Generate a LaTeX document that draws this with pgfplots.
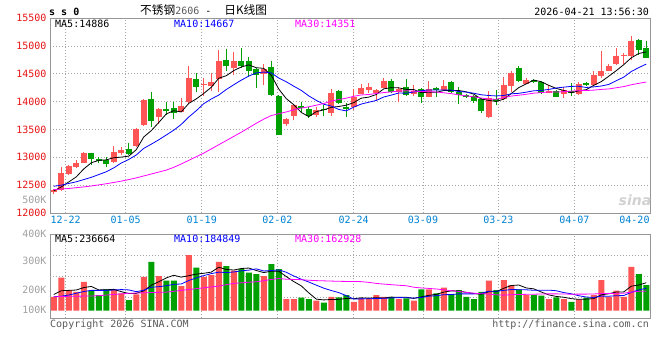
\documentclass[border=0pt]{standalone}
\usepackage{pgfplots}
\usepackage{pgfplotstable}
\pgfplotsset{compat=1.18}
\usepackage{fontspec}
\newfontfamily\mono{DejaVu Sans Mono}
\newfontfamily\cjk{Noto Sans CJK SC}
\definecolor{upred}{RGB}{255,85,85}
\definecolor{dngreen}{RGB}{0,160,0}
\definecolor{pricered}{RGB}{230,20,20}
\definecolor{dateblue}{RGB}{0,130,210}
\definecolor{volgray}{RGB}{160,160,160}
\definecolor{gridgray}{RGB}{165,165,165}
\definecolor{bordergray}{RGB}{150,150,150}
\definecolor{txtgray}{RGB}{90,90,90}
\definecolor{maBlue}{RGB}{0,0,255}
\definecolor{maMag}{RGB}{255,0,255}

% i open high low close volume(K)
\pgfplotstableread{
i o h l c v
0 12370 12430 12350 12420 120
1 12420 12830 12400 12715 284
2 12700 12860 12690 12840 178
3 12820 12950 12810 12900 163
4 12900 13100 12890 13080 249
8 12910 13210 12900 13090 183
9 13085 13180 13040 13135 149
11 13210 13530 13190 13510 140
12 13580 14040 13570 14030 292
14 13715 13885 13590 13865 298
17 13820 14060 13810 13920 212
18 13985 14630 13975 14420 479
20 14290 14420 14100 14320 292
21 14275 14515 14190 14350 307
22 14400 14920 14180 14735 421
24 14610 14895 14470 14730 344
28 14490 14670 14300 14585 298
31 13600 13710 13565 13680 100
32 13740 13965 13670 13935 100
35 13755 13900 13720 13845 86
37 13800 14220 13750 14160 120
40 13895 14220 13850 14075 77
41 14140 14310 14130 14240 106
42 14210 14340 14150 14255 106
43 14155 14220 14010 14205 135
44 14250 14430 14240 14370 120
46 14180 14260 14000 14220 100
48 14140 14300 14100 14190 86
50 14090 14375 14080 14220 183
52 14210 14390 14190 14280 198
58 13715 14190 13700 14060 258
60 14040 14450 14030 14300 264
61 14280 14540 14180 14510 221
63 14315 14430 14310 14390 135
66 14160 14300 14150 14190 100
68 14130 14270 14070 14210 100
70 14130 14345 14120 14310 97
72 14300 14540 14300 14480 135
73 14465 14900 14430 14540 264
74 14555 14670 14550 14645 120
75 14670 14960 14660 14810 172
76 14820 14870 14670 14840 120
77 14825 15185 14750 15090 378
}\up

\pgfplotstableread{
i o h l c v
5 13070 13085 12860 12970 172
6 12975 13010 12890 12935 135
7 12960 13010 12830 12885 183
10 13150 13250 13040 13060 92
13 14045 14170 13545 13655 421
15 13865 13985 13760 13830 258
16 13880 13985 13690 13800 258
19 14400 14515 14180 14270 370
23 14750 14945 14550 14645 384
25 14730 14970 14600 14645 358
26 14735 14800 14450 14540 327
27 14585 14600 14250 14480 315
29 14625 14730 14100 14120 401
30 14105 14110 13395 13400 358
33 13925 14000 13805 13890 112
34 13865 13910 13710 13745 100
36 13870 13935 13735 13840 69
38 14195 14210 13960 13970 115
39 13905 13975 13720 13860 135
45 14370 14405 14150 14180 120
47 14255 14400 14100 14120 106
49 14220 14240 13970 14090 183
51 14250 14270 14090 14210 149
53 14360 14375 14160 14180 143
54 14180 14255 13950 14110 178
55 14115 14130 14060 14090 120
56 14100 14115 13980 14010 100
57 14040 14060 13800 13835 163
59 14045 14210 13940 14015 178
62 14600 14630 14345 14370 183
64 14390 14405 14340 14360 135
65 14360 14375 14130 14150 129
67 14190 14205 14075 14090 115
69 14190 14340 14105 14160 77
71 14330 14360 14280 14300 112
78 15110 15125 14840 14930 315
79 14960 15080 14780 14790 221
}\down

% moving averages: price MA5 MA10 MA30, volume MA5 MA10 MA30 (K)
\pgfplotstableread{
i p5 p10 p30 v5 v10 v30
0 12396 12480 12420 140 120 120
1 12468 12500 12430 172 125 122
2 12558 12530 12440 175 135 124
3 12648 12560 12455 178 150 125
4 12791 12600 12468 199 165 126
5 12901 12640 12485 209 175 127
6 12945 12690 12505 179 175 129
7 12954 12740 12525 180 175 135
8 12992 12810 12548 184 178 140
9 13003 12897 12572 164 182 145
10 13021 12961 12600 148 179 150
11 13136 13041 12630 149 164 152
12 13365 13160 12665 171 176 154
13 13478 13235 12700 219 202 156
14 13624 13314 12735 249 207 158
15 13778 13400 12770 282 215 160
16 13836 13486 12820 305 227 167
17 13814 13590 12880 289 230 175
18 13967 13723 12945 301 260 182
19 14048 13836 13010 315 282 190
20 14146 13962 13075 322 302 197
21 14256 14046 13150 332 319 205
22 14419 14117 13225 374 332 212
23 14464 14216 13300 355 328 224
24 14556 14302 13375 350 333 235
25 14621 14384 13450 363 343 240
26 14659 14458 13530 367 349 245
27 14608 14514 13610 346 360 249
28 14596 14530 13685 328 342 258
29 14474 14515 13749 340 345 269
30 14225 14423 13782 340 351 277
31 14053 14356 13814 294 331 271
32 13944 14276 13851 251 299 269
33 13805 14201 13884 214 271 267
34 13730 14102 13906 154 247 262
35 13819 14022 13935 100 220 259
36 13851 13952 13965 93 194 257
37 13896 13920 14008 97 174 255
38 13912 13859 14037 98 156 253
39 13935 13833 14061 105 130 252
40 13981 13900 14095 103 101 252
41 14061 13956 14119 111 102 250
42 14080 13988 14127 108 103 244
43 14127 14020 14145 112 105 235
44 14229 14082 14162 109 107 229
45 14250 14116 14174 117 110 224
46 14246 14154 14188 116 113 219
47 14219 14150 14194 116 112 215
48 14216 14172 14187 106 109 202
49 14160 14195 14181 119 114 196
50 14168 14209 14177 132 125 192
51 14166 14206 14173 141 129 187
52 14198 14209 14158 160 138 180
53 14196 14206 14142 171 139 172
54 14200 14180 14121 170 145 166
55 14174 14171 14103 158 145 158
56 14134 14150 14085 148 145 151
57 14045 14122 14064 141 150 146
58 14021 14109 14045 164 168 144
59 14002 14101 14042 164 167 137
60 14044 14109 14072 193 175 134
61 14144 14139 14099 217 182 138
62 14251 14148 14114 221 181 140
63 14317 14169 14131 196 180 141
64 14386 14194 14151 188 176 142
65 14356 14200 14161 161 177 144
66 14292 14218 14173 136 177 145
67 14236 14244 14171 123 172 145
68 14200 14259 14178 116 156 144
69 14160 14273 14188 104 146 142
70 14192 14274 14196 98 129 143
71 14214 14253 14198 100 118 143
72 14292 14264 14206 104 114 144
73 14358 14279 14218 137 126 148
74 14455 14308 14227 146 125 148
75 14555 14374 14248 161 129 150
76 14663 14439 14269 162 131 151
77 14785 14539 14302 211 158 160
78 14863 14610 14327 221 179 167
79 14892 14673 14351 241 193 168
}\ma

\pgfplotsset{
  sinabase/.style={
    scale only axis, width=600pt,
    xmin=-0.5, xmax=79.5,
    scaled x ticks=false, scaled y ticks=false,
    axis line style={draw=bordergray, line width=1pt},
    tick style={draw=none},
    major tick length=0pt,
    /pgf/number format/assume math mode=true,
    grid style={draw=gridgray, line width=0.7pt, dash pattern=on 1pt off 2pt},
    xtick={1.59,9.59,19.73,29.81,39.99,49.23,59.29,69.42},
    xmajorgrids,
    yticklabel style={font=\mono\fontsize{10}{12}\selectfont},
    xticklabel style={font=\mono\fontsize{10}{12}\selectfont, text=dateblue},
  },
  wick/.style={draw=none, mark=none,
    error bars/.cd, y dir=plus, y explicit, error mark=none,
    error bar style={line width=1pt, draw=#1, solid}},
  body/.style={draw=none, mark=none,
    error bars/.cd, y dir=plus, y explicit, error mark=none,
    error bar style={line width=6pt, draw=#1, solid}},
}

\begin{document}
\begin{tikzpicture}
\useasboundingbox (0,0) rectangle (660pt,360pt);

% ---------- price panel ----------
\begin{axis}[sinabase,
  at={(50pt,147pt)}, anchor=south west, height=195pt,
  ymin=12000, ymax=15500,
  xticklabels={12-22,01-05,01-19,02-02,02-24,03-09,03-23,04-07},
  extra x ticks={77.43}, extra x tick labels={04-20},
  extra x tick style={grid=none},
  ytick={12000,12500,13000,13500,14000,14500,15000,15500},
  yticklabels={12000,12500,13000,13500,14000,14500,15000,15500},
  yticklabel style={text=pricered},
  ymajorgrids,
  extra y ticks={12229}, extra y tick labels={500K},
  extra y tick style={grid=none, yticklabel style={text=volgray}},
]
\addplot[wick=upred] table[x=i, y=l, y error expr=\thisrow{h}-\thisrow{l}] {\up};
\addplot[wick=dngreen] table[x=i, y=l, y error expr=\thisrow{h}-\thisrow{l}] {\down};
\addplot[body=upred] table[x=i, y=o, y error expr=\thisrow{c}-\thisrow{o}] {\up};
\addplot[body=dngreen] table[x=i, y=c, y error expr=\thisrow{o}-\thisrow{c}] {\down};
\addplot[black, line width=0.8pt, mark=none] table[x=i, y=p5] {\ma};
\addplot[maBlue, line width=0.8pt, mark=none] table[x=i, y=p10] {\ma};
\addplot[maMag, line width=0.8pt, mark=none] table[x=i, y=p30] {\ma};
\end{axis}

% ---------- volume panel ----------
\begin{axis}[sinabase,
  at={(50pt,41.7pt)}, anchor=south west, height=84pt,
  ymin=-65, ymax=657,
  xticklabels={},
  ytick={6,178,427,657},
  yticklabels={100K,200K,300K,400K},
  yticklabel style={text=volgray},
  extra y ticks={115,296,476}, extra y tick labels={},
  extra y tick style={grid=major},
]
\addplot[ybar, bar width=6pt, bar shift=0pt, fill=upred, draw=none] table[x=i, y=v] {\up};
\addplot[ybar, bar width=6pt, bar shift=0pt, fill=dngreen, draw=none] table[x=i, y=v] {\down};
\addplot[black, line width=0.8pt, mark=none] table[x=i, y=v5] {\ma};
\addplot[maBlue, line width=0.8pt, mark=none] table[x=i, y=v10] {\ma};
\addplot[maMag, line width=0.8pt, mark=none] table[x=i, y=v30] {\ma};
\end{axis}

% ---------- texts ----------
\begin{scope}[every node/.style={inner sep=0pt, font=\mono\fontsize{10}{12}\selectfont}]
\node[anchor=base west] at (49pt,345pt) {\bfseries s s 0};
\node[anchor=base west] at (140pt,345.5pt) {{\cjk\fontsize{11.7}{13}\selectfont 不锈钢}{\color{txtgray}2606}\hspace{6pt}-\hspace{13pt}{\cjk\fontsize{11.7}{13}\selectfont 日K线图}};
\node[anchor=base east] at (649pt,345pt) {2026-04-21 13:56:30};
\node[anchor=west, text=black] at (55pt,336.3pt) {MA5:14886};
\node[anchor=west, text=maBlue] at (174pt,336.3pt) {MA10:14667};
\node[anchor=west, text=maMag] at (295pt,336.3pt) {MA30:14351};
\node[anchor=west, text=black] at (55pt,121.5pt) {MA5:236664};
\node[anchor=west, text=maBlue] at (174pt,121.5pt) {MA10:184849};
\node[anchor=west, text=maMag] at (295pt,121.5pt) {MA30:162928};
\node[anchor=base west, text=txtgray] at (50pt,32.5pt) {Copyright 2026 SINA.COM};
\node[anchor=base east, text=txtgray] at (649pt,32.5pt) {http://finance.sina.com.cn};
\node[anchor=center, text=black!18, font={\fontspec{DejaVu Sans}\bfseries\itshape\fontsize{14}{14}\selectfont}] at (635pt,160pt) {sina};
\end{scope}
\end{tikzpicture}
\end{document}
